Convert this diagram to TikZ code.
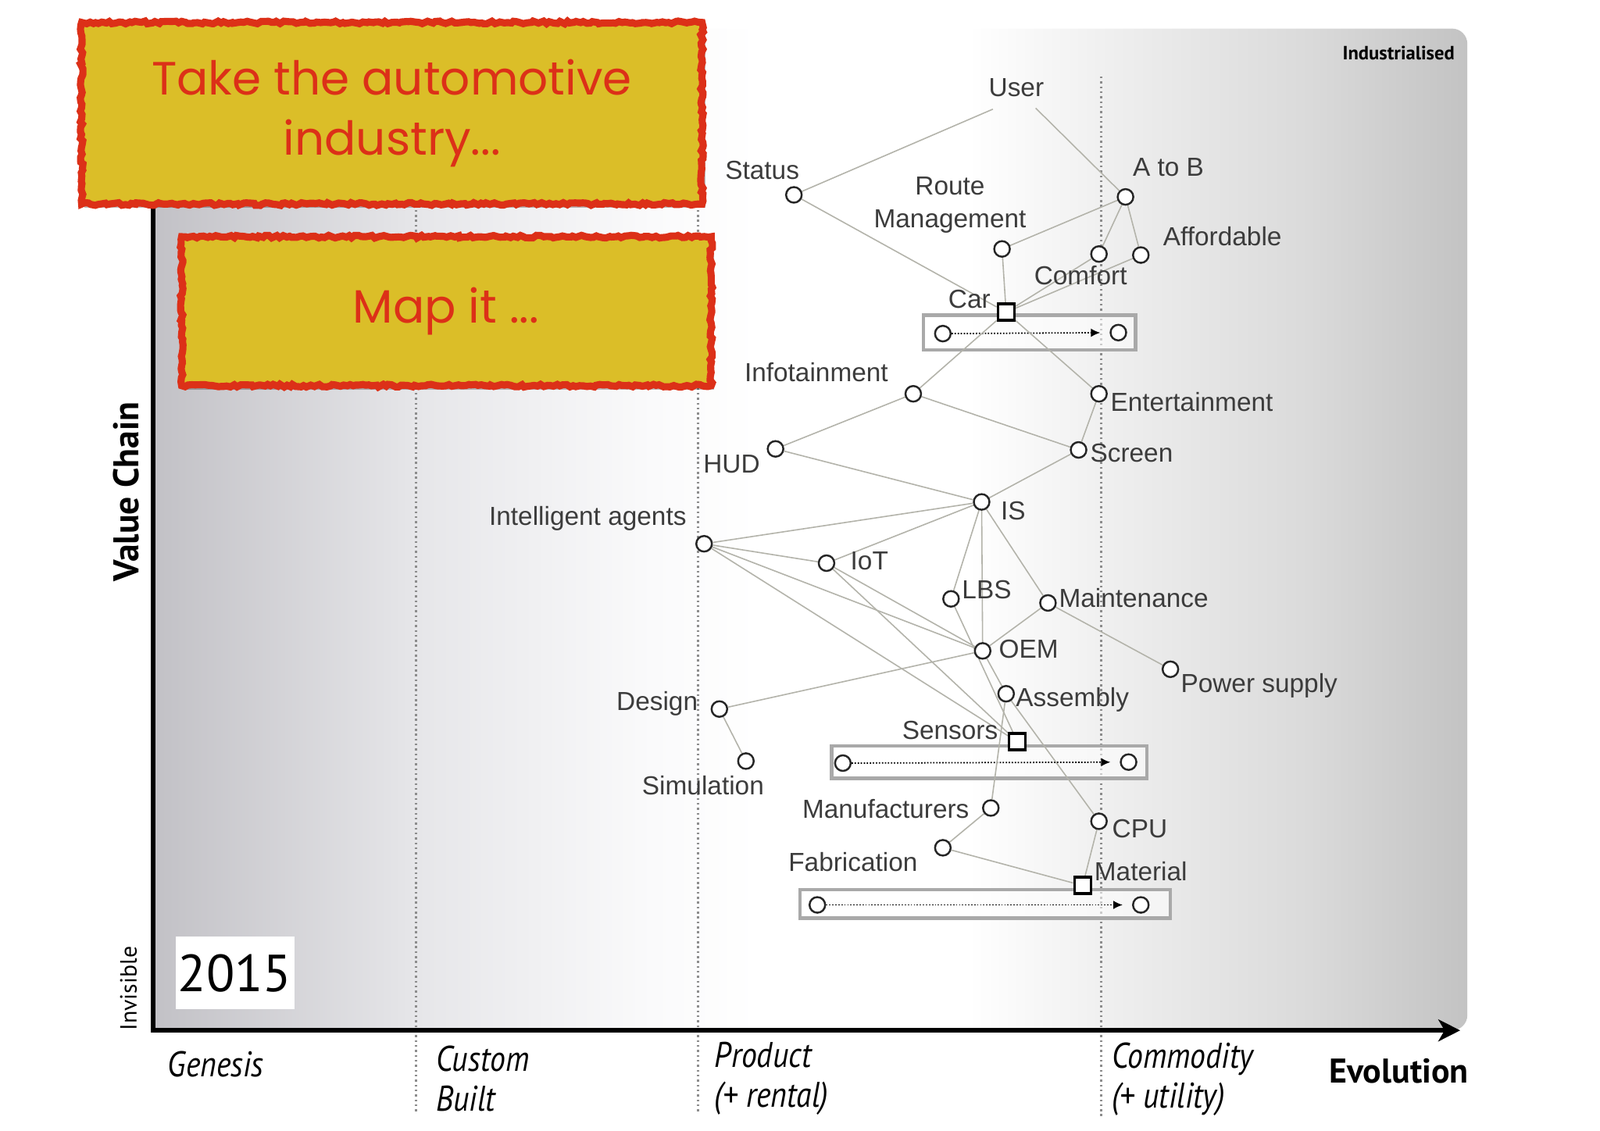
\documentclass[tikz,border=0pt]{standalone}
\usepackage{fontspec}
\setmainfont{Liberation Sans}
\newfontfamily\gillfont{PT Sans}
\newfontfamily\gillnarrow[FakeStretch=0.87]{PT Sans}
\newfontfamily\comicfont{Poppins}
\usepackage{tikz}
\usetikzlibrary{arrows.meta,decorations.pathmorphing,backgrounds}
\definecolor{panelL}{HTML}{C2C1C6}
\definecolor{panelLtwo}{HTML}{E6E6E9}
\definecolor{panelLthree}{HTML}{FAFAFB}
\definecolor{panelRthree}{HTML}{F0F0F0}
\definecolor{panelRtwo}{HTML}{DADADA}
\definecolor{panelR}{HTML}{C3C3C3}
\definecolor{linkGrey}{HTML}{B3B3AA}
\definecolor{stageGrey}{HTML}{8C8C8C}
\definecolor{evoGrey}{HTML}{A9A9A9}
\definecolor{labelGrey}{HTML}{3C3C3C}
\definecolor{boxYellow}{HTML}{DBBE28}
\definecolor{boxRed}{HTML}{DC3018}
\pgfdeclarehorizontalshading{panelshade}{100bp}{color(0bp)=(panelL); color(25bp)=(panelL); color(35bp)=(panelLtwo); color(44bp)=(panelLthree); color(48bp)=(white); color(56bp)=(white); color(61bp)=(panelRthree); color(69bp)=(panelRtwo); color(75bp)=(panelR); color(100bp)=(panelR)}

\begin{document}
\begin{tikzpicture}[x=0.130612mm, y=-0.130612mm,
  comp/.style={circle, draw=black!85, fill=white, line width=0.7pt, minimum size=2mm, inner sep=0pt},
  good/.style={rectangle, draw=black, fill=white, line width=1pt, minimum size=2.1mm, inner sep=0pt},
  lbl/.style={font=\fontsize{9.5}{12}\selectfont, text=labelGrey, inner sep=0pt, align=center},
  link/.style={draw=linkGrey, line width=0.45pt},
  evobox/.style={draw=evoGrey, line width=1.3pt, fill=white, fill opacity=0.55},
  evoarrow/.style={dash pattern=on 0.5pt off 0.6pt, line width=0.5pt, -{Latex[length=1.2mm,width=1.1mm]}, shorten >=1.2mm},
  stage/.style={draw=stageGrey, line width=0.8pt, dash pattern=on 0.7pt off 1.1pt},
  titlebox/.style={fill=boxYellow, draw=boxRed, line width=2.6pt, decorate, decoration={random steps, segment length=1.2pt, amplitude=0.5pt}},
  titletext/.style={font=\comicfont\fontsize{17}{22}\selectfont, text=boxRed, align=center},
  axisline/.style={line width=1.7pt, -{Stealth[length=2.8mm,width=2.8mm,inset=0.8mm]}},
  phase/.style={font=\gillnarrow\itshape\fontsize{13}{14.5}\selectfont, align=left, anchor=west, inner sep=0pt}
]
  % useful area
  \useasboundingbox (0,0) rectangle (1568,1108);

  % components
  \node[lbl] (user) at (996,86) {User};
  \coordinate (userL) at (973,107);
  \coordinate (userR) at (1015,106);
  \node[comp] (status) at (778,191) {};
  \node[lbl] (statusT) at (747,167) {Status};
  \node[comp] (atob) at (1103,193) {};
  \node[lbl] (atobT) at (1145,164) {A to B};
  \node[comp] (route) at (982,244) {};
  \node[lbl] (routeT) at (931,201) {Route\\Management};
  \node[comp] (comfort) at (1077,249) {};
  \node[lbl] (comfortT) at (1059,270) {Comfort};
  \node[comp] (afford) at (1118,250) {};
  \node[lbl] (affordT) at (1198,232) {Affordable};
  \node[good] (car) at (986,306) {};
  \node[lbl] (carT) at (950,293) {Car};
  \node[comp] (info) at (895,386) {};
  \node[lbl] (infoT) at (800,365) {Infotainment};
  \node[comp] (ent) at (1077,386) {};
  \node[lbl] (entT) at (1168,394) {Entertainment};
  \node[comp] (hud) at (760,440) {};
  \node[lbl] (hudT) at (717,455) {HUD};
  \node[comp] (screen) at (1057,441) {};
  \node[lbl] (screenT) at (1109,444) {Screen};
  \node[comp] (is) at (962,492) {};
  \node[lbl] (isT) at (993,501) {IS};
  \node[comp] (agents) at (690,533) {};
  \node[lbl] (agentsT) at (576,508) {Intelligent agents};
  \node[comp] (iot) at (810,552) {};
  \node[lbl] (iotT) at (852,550) {IoT};
  \node[comp] (lbs) at (932,587) {};
  \node[lbl] (lbsT) at (967,578) {LBS};
  \node[comp] (maint) at (1027,591) {};
  \node[lbl] (maintT) at (1111,586) {Maintenance};
  \node[comp] (oem) at (963,638) {};
  \node[lbl] (oemT) at (1008,636) {OEM};
  \node[comp] (power) at (1147,656) {};
  \node[lbl] (powerT) at (1234,672) {Power supply};
  \node[comp] (assembly) at (986,680) {};
  \node[lbl] (assemblyT) at (1051,686) {Assembly};
  \node[comp] (design) at (705,695) {};
  \node[lbl] (designT) at (644,690) {Design};
  \node[good] (sensors) at (997,727) {};
  \node[lbl] (sensorsT) at (931,716) {Sensors};
  \node[comp] (sim) at (731,746) {};
  \node[lbl] (simT) at (689,770) {Simulation};
  \node[comp] (manuf) at (971,792) {};
  \node[lbl] (manufT) at (868,793) {Manufacturers};
  \node[comp] (cpu) at (1077,805) {};
  \node[lbl] (cpuT) at (1117,812) {CPU};
  \node[comp] (fab) at (924,831) {};
  \node[lbl] (fabT) at (836,845) {Fabrication};
  \node[good] (material) at (1061,868) {};
  \node[lbl] (materialT) at (1118,854) {Material};

  % evolution ends
  \node[comp] (carFrom) at (924,327) {};
  \node[comp] (carTo) at (1096,326) {};
  \node[comp] (sensorsFrom) at (826,748) {};
  \node[comp] (sensorsTo) at (1106,747) {};
  \node[comp] (materialFrom) at (801,887) {};
  \node[comp] (materialTo) at (1118,887) {};

  \begin{scope}[on background layer]
    % panel
    \shade[shading=panelshade] (150,1010) -- (150,28) -- (1423,28)
      arc[start angle=-90, end angle=0, radius=15] -- (1438,995)
      arc[start angle=0, end angle=90, radius=15] -- cycle;
    \draw[stage] (408,75) -- (408,1090);
    \draw[stage] (684,75) -- (684,1092);
    \draw[stage] (1079,75) -- (1079,1094);
    % axes
    \coordinate (yTop) at (150,28);
    \coordinate (origin) at (150,1010);
    \coordinate (xEnd) at (1431,1010);
    \draw[axisline] (yTop) -- (origin) -- (xEnd);
    % evolution boxes
    \draw[evobox] (905,309) rectangle (1113,343);
    \draw[evobox] (815,731) rectangle (1124,763);
    \draw[evobox] (784,872) rectangle (1147,900);
    \draw[evoarrow] (carFrom) -- (carTo);
    \draw[evoarrow] (sensorsFrom) -- (sensorsTo);
    \draw[evoarrow] (materialFrom) -- (materialTo);
    % links
    \draw[link] (userL) -- (status);
    \draw[link] (userR) -- (atob);
    \draw[link] (status) -- (car);
    \draw[link] (atob) -- (route);
    \draw[link] (atob) -- (comfort);
    \draw[link] (atob) -- (afford);
    \draw[link] (route) -- (car);
    \draw[link] (car) -- (comfort);
    \draw[link] (car) -- (afford);
    \draw[link] (car) -- (info);
    \draw[link] (car) -- (ent);
    \draw[link] (info) -- (hud);
    \draw[link] (info) -- (screen);
    \draw[link] (ent) -- (screen);
    \draw[link] (hud) -- (is);
    \draw[link] (screen) -- (is);
    \draw[link] (is) -- (agents);
    \draw[link] (is) -- (iot);
    \draw[link] (is) -- (lbs);
    \draw[link] (is) -- (oem);
    \draw[link] (is) -- (maint);
    \draw[link] (agents) -- (iot);
    \draw[link] (agents) -- (oem);
    \draw[link] (agents) -- (sensors);
    \draw[link] (iot) -- (oem);
    \draw[link] (iot) -- (sensors);
    \draw[link] (lbs) -- (sensors);
    \draw[link] (maint) -- (oem);
    \draw[link] (maint) -- (power);
    \draw[link] (oem) -- (design);
    \draw[link] (oem) -- (assembly);
    \draw[link] (design) -- (sim);
    \draw[link] (assembly) -- (manuf);
    \draw[link] (assembly) -- (cpu);
    \draw[link] (manuf) -- (fab);
    \draw[link] (fab) -- (material);
    \draw[link] (cpu) -- (material);
  \end{scope}

  % axis texts
  \node[font=\gillfont\bfseries\fontsize{13}{15}\selectfont, rotate=90, inner sep=0pt] (valueChain) at (124,482) {Value Chain};
  \node[font=\gillfont\fontsize{8.5}{10}\selectfont, rotate=90, inner sep=0pt] (invisible) at (126,969) {Invisible};
  \node[font=\gillfont\bfseries\fontsize{7}{8}\selectfont, anchor=east, inner sep=0pt] (industrialised) at (1426,52) {Industrialised};
  \fill[white] (172,918) rectangle (289,989);
  \node[font=\gillfont\fontsize{19}{22}\selectfont, inner sep=0pt] (year) at (230,954) {2015};
  \node[phase] (genesis) at (164,1043) {Genesis};
  \node[phase] (custom) at (427,1057) {Custom\\Built};
  \node[phase] (product) at (700,1057) {Product\\(+ rental)};
  \node[phase] (commodity) at (1089,1058) {Commodity\\(+ utility)};
  \node[font=\gillfont\bfseries\fontsize{12.5}{14}\selectfont, anchor=west, inner sep=0pt] (evolution) at (1302,1050) {Evolution};

  % title boxes
  \fill[black, opacity=0.25] (83,26) rectangle (691,204);
  \draw[titlebox] (80,22) rectangle (688,200);
  \node[titletext] (takeText) at (384,111) {Take the automotive\\industry...};
  \fill[black, opacity=0.25] (181,236) rectangle (700,382);
  \draw[titlebox] (178,232) rectangle (697,378);
  \node[titletext] (mapText) at (437,305) {Map it ...};
\end{tikzpicture}
\end{document}
